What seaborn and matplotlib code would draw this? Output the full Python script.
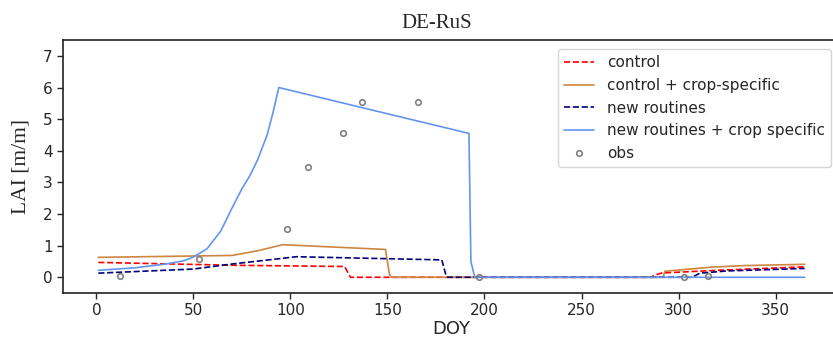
import matplotlib
matplotlib.use("Agg")
import matplotlib.pyplot as plt
import seaborn as sns
import numpy as np
import pandas as pd

# ---- data ----
control_doy = [1, 70, 128, 130, 131, 286, 287, 291, 293, 320, 365]
control_lai = [0.47, 0.38, 0.34, 0.10, 0.0, 0.0, 0.05, 0.13, 0.14, 0.22, 0.33]

crop_doy = [1, 70, 84, 96, 149, 151, 152, 292, 293, 317, 334, 365]
crop_lai = [0.63, 0.69, 0.85, 1.03, 0.88, 0.10, 0.0, 0.0, 0.19, 0.32, 0.37, 0.41]

new_doy = [1, 50, 70, 96, 103, 178, 180, 181, 307, 311, 325, 365]
new_lai = [0.13, 0.26, 0.42, 0.60, 0.65, 0.55, 0.10, 0.0, 0.0, 0.13, 0.20, 0.28]

newcrop_doy = [1, 20, 36, 45, 50, 57, 64, 70, 75, 79, 83, 88, 91, 94, 192, 193, 195, 365]
newcrop_lai = [0.22, 0.30, 0.42, 0.52, 0.64, 0.90, 1.45, 2.20, 2.80, 3.20, 3.70, 4.50, 5.20, 6.00,
               4.55, 0.50, 0.0, 0.0]

obs_doy = [12, 53, 98, 109, 127, 137, 166, 197, 303, 315]
obs_lai = [0.05, 0.59, 1.52, 3.50, 4.56, 5.53, 5.53, 0.0, 0.0, 0.05]

labels = ["control", "control + crop-specific", "new routines",
          "new routines + crop specific", "obs"]
xticks = [0, 50, 100, 150, 200, 250, 300, 350]
yticks = [0, 1, 2, 3, 4, 5, 6, 7]

# ---- style ----
sns.set_style("ticks", {"axes.edgecolor": "#222222"})
plt.rcParams["font.family"] = ["DejaVu Sans"]
plt.rcParams["axes.linewidth"] = 1.2

fig = plt.figure(figsize=(8.33, 3.4), dpi=100)
ax = fig.add_axes([0.0756, 0.138, 0.9328, 0.744])

common = dict(ax=ax, sort=False, estimator=None, linewidth=1.2)
sns.lineplot(x=control_doy, y=control_lai, color="red", linestyle="--", label=labels[0], **common)
sns.lineplot(x=crop_doy, y=crop_lai, color="#cd853f", linestyle="-", label=labels[1], **common)
sns.lineplot(x=new_doy, y=new_lai, color="navy", linestyle="--", label=labels[2], **common)
sns.lineplot(x=newcrop_doy, y=newcrop_lai, color="cornflowerblue", linestyle="-", label=labels[3], **common)
sns.lineplot(x=obs_doy, y=obs_lai, ax=ax, sort=False, estimator=None, linestyle="none",
             marker="o", markersize=4, markerfacecolor="none", markeredgecolor="grey",
             markeredgewidth=1.2, color="grey", label=labels[4])

ax.set_xlim(-17.2, 383.2)
ax.set_ylim(-0.5, 7.5)
ax.set_xticks(xticks)
ax.set_yticks(yticks)
ax.tick_params(labelsize=11, length=4, width=1.0)

ax.set_title("DE-RuS", fontfamily="Liberation Serif", fontsize=15, pad=9, x=0.481)
ax.set_ylabel("LAI [m/m]", fontfamily="Liberation Serif", fontsize=15.5, labelpad=9)
ax.set_xlabel("DOY", fontsize=13, labelpad=1)

leg = ax.legend(loc="upper right", fontsize=11, frameon=True, borderaxespad=0.6)

fig.savefig("out.png", dpi=100)
